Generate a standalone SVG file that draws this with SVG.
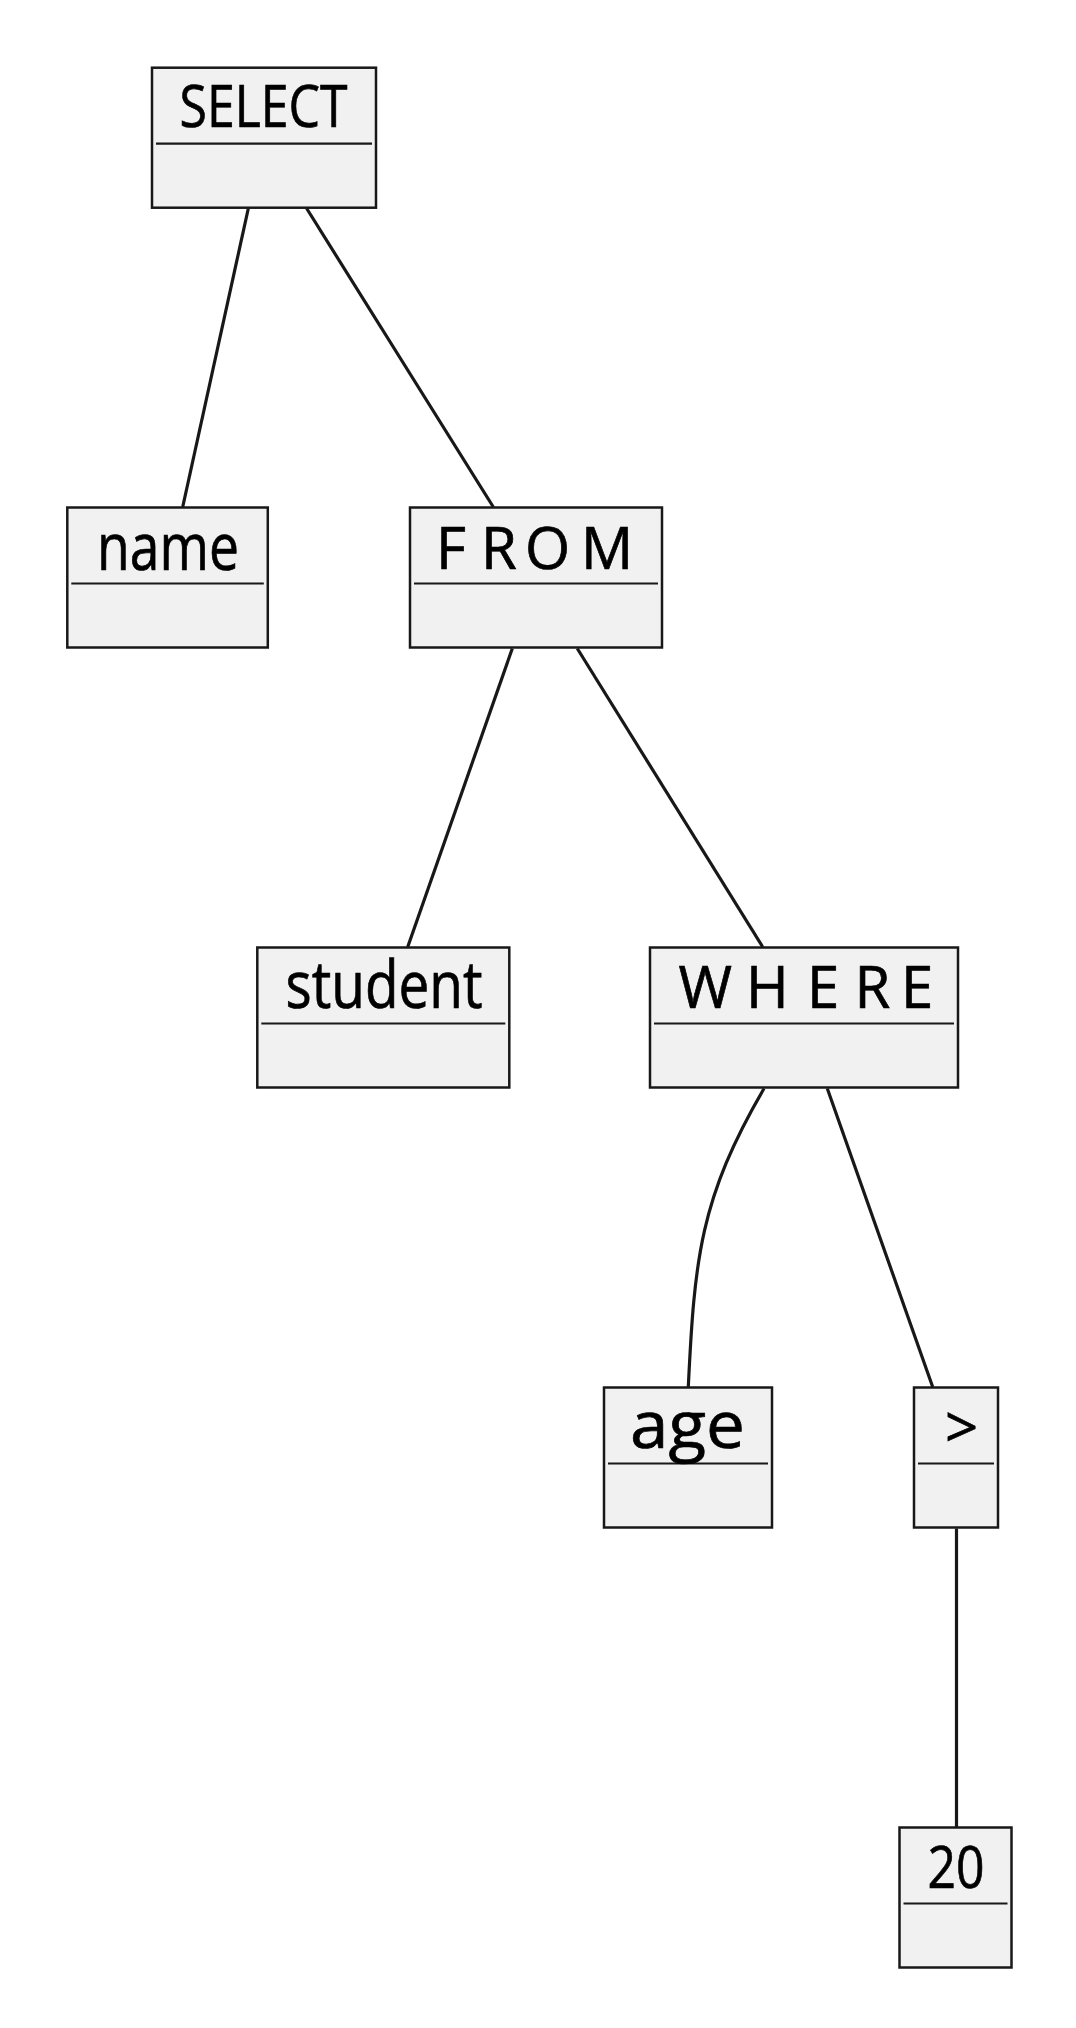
<svg xmlns="http://www.w3.org/2000/svg" width="1076" height="2028" viewBox="0 0 1076 2028">
<style>
.box{fill:#F1F1F1;stroke:#181818;stroke-width:2.5}
.sep{stroke:#181818;stroke-width:2.2}
.edge{fill:none;stroke:#181818;stroke-width:3.2}
.up{font-family:"Open Sans","Noto Sans",sans-serif;font-size:58px;fill:#000;stroke:#000;stroke-width:0.7}
.lo{font-family:"Open Sans","Noto Sans",sans-serif;font-size:65px;fill:#000;stroke:#000;stroke-width:0.7}
</style>
<rect width="1076" height="2028" fill="#FFFFFF"/>
<g id="connectors">
<path class="edge" d="M248.3,208.5 L182.7,507"/>
<path class="edge" d="M306.7,208.5 L493.3,507"/>
<path class="edge" d="M512.3,648.5 L407.7,947"/>
<path class="edge" d="M577.3,648.5 L762.7,947"/>
<path class="edge" d="M764,1088.5 C700.2,1198 694.5,1258 688.3,1387"/>
<path class="edge" d="M827.3,1088.5 L932.7,1387"/>
<path class="edge" d="M956.5,1528.5 L956.5,1827"/>
</g>
<g id="node-select">
<rect class="box" x="152" y="67.7" width="224" height="140"/>
<line class="sep" x1="156" y1="143.7" x2="372" y2="143.7"/>
<text class="up" x="179.5" y="126.7" font-size="55" textLength="168" lengthAdjust="spacingAndGlyphs">SELECT</text>
</g>
<g id="node-name">
<rect class="box" x="67.3" y="507.5" width="200.5" height="140"/>
<line class="sep" x1="71.3" y1="583.5" x2="263.8" y2="583.5"/>
<text class="lo" x="97" y="570" font-size="67" textLength="142" lengthAdjust="spacingAndGlyphs">name</text>
</g>
<g id="node-from">
<rect class="box" x="410" y="507.5" width="252" height="140"/>
<line class="sep" x1="414" y1="583.5" x2="658" y2="583.5"/>
<text class="up" y="569" x="436 481 525 581">FROM</text>
</g>
<g id="node-student">
<rect class="box" x="257.3" y="947.5" width="252" height="140"/>
<line class="sep" x1="261.3" y1="1023.5" x2="505.3" y2="1023.5"/>
<text class="lo" x="285.5" y="1008.3" textLength="197" lengthAdjust="spacingAndGlyphs">student</text>
</g>
<g id="node-where">
<rect class="box" x="650" y="947.5" width="308" height="140"/>
<line class="sep" x1="654" y1="1023.5" x2="954" y2="1023.5"/>
<text class="up" y="1008.3" x="678.4 746 807 854.5 901">WHERE</text>
</g>
<g id="node-age">
<rect class="box" x="604" y="1387.5" width="168" height="140"/>
<line class="sep" x1="608" y1="1463.5" x2="768" y2="1463.5"/>
<text class="lo" x="630" y="1448.3" font-size="63" textLength="115" lengthAdjust="spacingAndGlyphs">age</text>
</g>
<g id="node-gt">
<rect class="box" x="914" y="1387.5" width="84" height="140"/>
<line class="sep" x1="918" y1="1463.5" x2="994" y2="1463.5"/>
<text class="up" x="945" y="1448.3" font-size="60">&gt;</text>
</g>
<g id="node-20">
<rect class="box" x="899.5" y="1827.5" width="112" height="140"/>
<line class="sep" x1="903.5" y1="1903.5" x2="1007.5" y2="1903.5"/>
<text class="up" x="927.5" y="1887.7" font-size="57" textLength="57" lengthAdjust="spacingAndGlyphs">20</text>
</g>
</svg>
